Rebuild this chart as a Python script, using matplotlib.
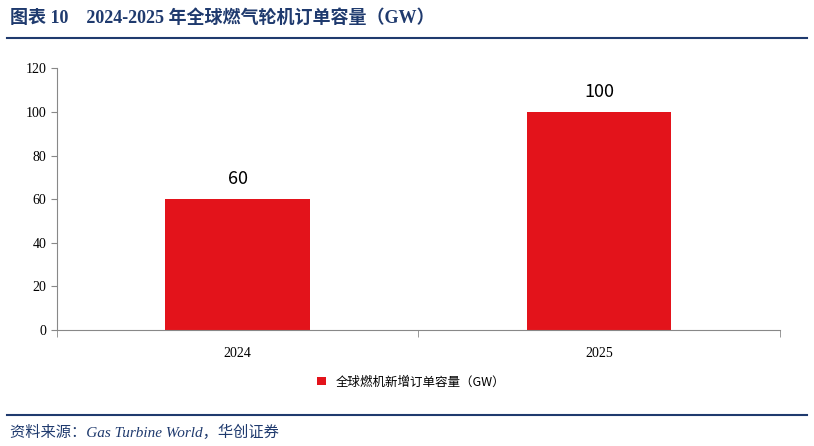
import matplotlib
matplotlib.use("Agg")
import matplotlib.pyplot as plt
from matplotlib.lines import Line2D

years = ["2024", "2025"]
orders_gw = [60, 100]
series_name = "全球燃机新增订单容量（GW）"
title = "图表 10    2024-2025 年全球燃气轮机订单容量（GW）"
source = "资料来源：Gas Turbine World，华创证券"

cjk = ["Noto Sans CJK SC", "DejaVu Sans"]
serif = ["Liberation Serif", "Noto Sans CJK SC"]
navy = "#1F3A6E"
red = "#E3131B"

fig = plt.figure(figsize=(8.14, 4.46), dpi=100)
ax = fig.add_axes([0.070, 0.260, 0.888, 0.587])

x = range(len(years))
bars = ax.bar(x, orders_gw, width=0.4, color=red, label=series_name)
for b, v in zip(bars, orders_gw):
    ax.text(b.get_x() + b.get_width() / 2, v + 5, str(v), ha="center",
            va="bottom", fontsize=13, family=cjk)

ax.set_xlim(-0.5, len(years) - 0.5)
ax.set_ylim(0, 120)
ax.set_yticks(range(0, 121, 20))
ax.set_xticks(list(x))
ax.set_xticklabels(years)
for lab in ax.get_xticklabels() + ax.get_yticklabels():
    lab.set_family(serif)
    lab.set_fontsize(10)
for s in ("top", "right"):
    ax.spines[s].set_visible(False)
for s in ("left", "bottom"):
    ax.spines[s].set_color("#888888")
# category separators like Excel
ax.set_xticks([-0.5, 0.5, 1.5], minor=True)
ax.tick_params(axis="x", which="major", length=0, pad=12)
ax.tick_params(axis="x", which="minor", length=5, color="#888888")
ax.tick_params(axis="y", length=4, color="#888888")

ax.legend(loc="upper center", bbox_to_anchor=(0.49, -0.13), frameon=False,
          prop={"family": cjk, "size": 9}, handlelength=0.7, handleheight=0.7)

fig.text(0.012, 0.96, title, fontsize=13, fontweight="bold", color=navy,
         family=["Liberation Serif", "Noto Sans CJK SC"], va="center")
fig.add_artist(Line2D([0.008, 0.992], [0.915, 0.915], color=navy, lw=1.5))
fig.add_artist(Line2D([0.008, 0.992], [0.07, 0.07], color=navy, lw=1.5))
fig.text(0.012, 0.03, source, fontsize=11, color=navy, style="italic",
         family=["Liberation Serif", "Noto Sans CJK SC"], va="center")

fig.savefig("out.png", dpi=100)
